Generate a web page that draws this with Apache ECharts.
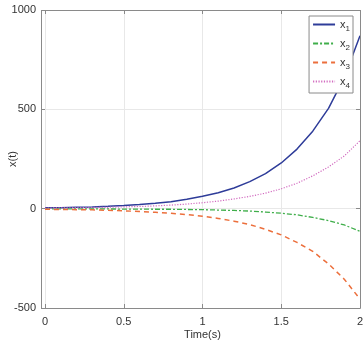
<!DOCTYPE html>
<html>
<head>
<meta charset="utf-8">
<script src="https://cdn.jsdelivr.net/npm/echarts@6/dist/echarts.min.js"></script>
<style>
  html, body { margin: 0; padding: 0; background: #fff; }
  #chart { width: 364px; height: 340px; }
</style>
</head>
<body>
<div id="chart"></div>
<script>
// time steps (s)
const time = [0, 0.1, 0.2, 0.3, 0.4, 0.5, 0.6, 0.7, 0.8, 0.9, 1.0,
  1.1, 1.2, 1.3, 1.4, 1.5, 1.6, 1.7, 1.8, 1.9, 2.0];

// state trajectories
const x1 = [4, 5, 7, 9, 12, 16, 21, 27, 35, 47, 62, 80, 104, 136, 176, 230, 300, 390, 505, 660, 870];
const x2 = [-1, -1, -1, -1, -1.5, -2, -2, -3, -3, -4, -5, -7, -9, -12, -17, -23, -31, -44, -60, -82, -114];
const x3 = [-3, -4, -5, -6, -8, -11, -14, -18, -23, -30, -38, -49, -63, -80, -104, -132, -170, -215, -278, -355, -455];
const x4 = [3, 4, 5, 6, 7, 9, 11, 14, 18, 23, 30, 38, 49, 62, 78, 100, 128, 165, 210, 265, 342];

const xTicks = { min: 0, max: 2, interval: 0.5 };
const yTicks = { min: -500, max: 1000, interval: 500 };

const txt = "#333";
const frame = "#8a8a8a";
const font = "Liberation Sans";

const chart = echarts.init(document.getElementById("chart"));

function pairs(ys) {
  return time.map((t, i) => [t, ys[i]]);
}

function line(name, ys, color, type, width) {
  return {
    name,
    type: "line",
    data: pairs(ys),
    showSymbol: false,
    symbol: "none",
    lineStyle: { color, type, width },
    itemStyle: { color },
    animation: false,
  };
}

const tick = { inside: true, length: 4, lineStyle: { color: frame } };
const noLine = { show: false, onZero: false };

chart.setOption({
  animation: false,
  textStyle: { fontFamily: font },
  grid: { left: 45, right: 4, top: 10, bottom: 32, containLabel: false, outerBoundsMode: "none" },
  xAxis: [
    {
      type: "value",
      ...xTicks,
      name: "Time(s)",
      nameLocation: "middle",
      nameGap: 21,
      nameMoveOverlap: false,
      nameTextStyle: { color: txt, fontSize: 11 },
      axisLine: noLine,
      axisTick: tick,
      axisLabel: { color: txt, fontSize: 11, margin: 8, formatter: (v) => String(v) },
      splitLine: { lineStyle: { color: "#e8e8e8" } },
    },
    {
      type: "value",
      position: "top",
      ...xTicks,
      axisLine: noLine,
      axisTick: tick,
      axisLabel: { show: false },
      splitLine: { show: false },
    },
  ],
  yAxis: [
    {
      type: "value",
      ...yTicks,
      offset: 4,
      name: "x(t)",
      nameLocation: "middle",
      nameGap: 23,
      nameMoveOverlap: false,
      nameTextStyle: { color: txt, fontSize: 11 },
      axisLine: noLine,
      axisTick: tick,
      axisLabel: { color: txt, fontSize: 11, margin: 5, formatter: (v) => String(v) },
      splitLine: { lineStyle: { color: "#e8e8e8" } },
    },
    {
      type: "value",
      position: "right",
      ...yTicks,
      axisLine: noLine,
      axisTick: tick,
      axisLabel: { show: false },
      splitLine: { show: false },
    },
  ],
  graphic: [
    {
      type: "rect",
      shape: { x: 41.5, y: 10.5, width: 319, height: 298 },
      style: { fill: "none", stroke: frame, lineWidth: 1 },
      z: 10,
      silent: true,
    },
  ],
  legend: {
    orient: "vertical",
    right: 11,
    top: 16,
    itemWidth: 22,
    itemHeight: 12,
    itemGap: 5,
    padding: [3, 3, 3, 3],
    backgroundColor: "#fff",
    borderColor: frame,
    borderWidth: 1,
    borderRadius: 0,
    itemStyle: { opacity: 0 },
    textStyle: {
      color: txt,
      fontSize: 11,
      rich: { s: { fontSize: 8, padding: [9, 0, 0, 0] } },
    },
    formatter: (name) => "x{s|" + name.slice(1) + "}",
    data: ["x1", "x2", "x3", "x4"],
  },
  series: [
    line("x1", x1, "#2e3c99", "solid", 1.5),
    line("x2", x2, "#3fae4a", [5, 2, 2, 2], 1.3),
    line("x3", x3, "#ec6f3c", [5, 4], 1.5),
    line("x4", x4, "#d26cc0", [1.2, 1.5], 1.2),
  ],
});
</script>
</body>
</html>
